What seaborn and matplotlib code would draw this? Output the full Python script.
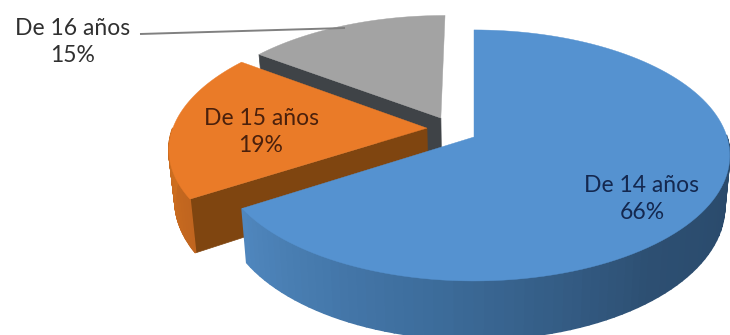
import numpy as np
import matplotlib
matplotlib.use("Agg")
import matplotlib.pyplot as plt
from matplotlib.patches import Polygon
import seaborn as sns

# Share of students by age
categories = ["De 14 años", "De 15 años", "De 16 años"]
percentages = [66, 19, 15]

sns.set_theme(style="white")
plt.rcParams["font.family"] = ["Lato", "DejaVu Sans"]

top_colors = sns.color_palette(["#5592D0", "#EA7B28", "#A3A3A3"])
cut_colors = ["#2F5A80", "#7F4510", "#3F4347"]
rim_ramps = [
    ["#2F5A80", "#264766", "#29496A", "#2D4F72", "#3D6D9C", "#4F86BD"],
    ["#C0651F", "#D0701F", "#B05A18"],
    ["#3F4347", "#3F4347"],
]
text_colors = ["#14284F", "#4A200C", "#303030"]

# Exploded apex and radius of each slice, in disk units
slice_offsets = [(0.0, 0.0), (-0.188, 0.073), (-0.134, 0.158)]
slice_radii = [1.0, 1.015, 1.0]
label_centres = [(642, 199), (261, 132), (73, 42)]

# Perspective projection of the pie disk onto the canvas
ORIGIN_X, ORIGIN_Y = 474, 137
SCALE_X, SCALE_Y = 253, 122.8
PERSPECTIVE = 0.147
DEPTH = 50
DEPTH_SHRINK = 0.98


def project(u, v, lowered=False):
    w = 1 + PERSPECTIVE * v
    x = SCALE_X * u / w
    y = ORIGIN_Y - SCALE_Y * v / w
    if lowered:
        x = x * DEPTH_SHRINK
        y = y + DEPTH / w
    return np.column_stack([ORIGIN_X + x, y])


fig, ax = plt.subplots(figsize=(7.3, 3.35), dpi=100)
fig.subplots_adjust(0, 0, 1, 1)
ax.set_xlim(0, 730)
ax.set_ylim(335, 0)
ax.axis("off")

ends = np.cumsum(percentages) / sum(percentages) * 360
starts = np.r_[0, ends[:-1]]

# Far slices first, so the nearer ones paint over them
for i in [2, 1, 0]:
    off = slice_offsets[i]
    theta = np.radians(np.linspace(starts[i], ends[i], 121))
    u = off[0] + slice_radii[i] * np.sin(theta)
    v = off[1] + slice_radii[i] * np.cos(theta)
    apex_u, apex_v = np.array([off[0]]), np.array([off[1]])

    # Only the leading cut of a left-hand slice faces the viewer
    if np.sin(theta[0]) < -1e-6:
        cu = np.r_[apex_u, u[0]]
        cv = np.r_[apex_v, v[0]]
        quad = np.vstack([project(cu, cv), project(cu, cv, True)[::-1]])
        ax.add_patch(Polygon(quad, closed=True, fc=cut_colors[i], ec=cut_colors[i], lw=0.5))

    # Outer wall, shaded along the arc; its back half stays hidden
    upper = project(u, v)
    lower = project(u, v, True)
    ramp = sns.blend_palette(rim_ramps[i], len(u) - 1)
    for k in range(len(u) - 1):
        if np.cos(theta[k]) < 0 or np.cos(theta[k + 1]) < 0:
            quad = [upper[k], upper[k + 1], lower[k + 1], lower[k]]
            ax.add_patch(Polygon(quad, closed=True, fc=ramp[k], ec=ramp[k], lw=1.2))

    face = project(np.r_[apex_u, u], np.r_[apex_v, v])
    ax.add_patch(Polygon(face, closed=True, fc=top_colors[i], ec=top_colors[i], lw=0.3))

# Leader line for the outside label
ax.plot([140, 345], [34, 28], color="#808080", lw=1.4, solid_capstyle="butt")

for name, pct, (x, y), col in zip(categories, percentages, label_centres, text_colors):
    ax.text(x, y, f"{name}\n{pct}%", ha="center", va="center", color=col,
            fontsize=16.5, linespacing=1.35)

fig.savefig("out.png", dpi=100)
